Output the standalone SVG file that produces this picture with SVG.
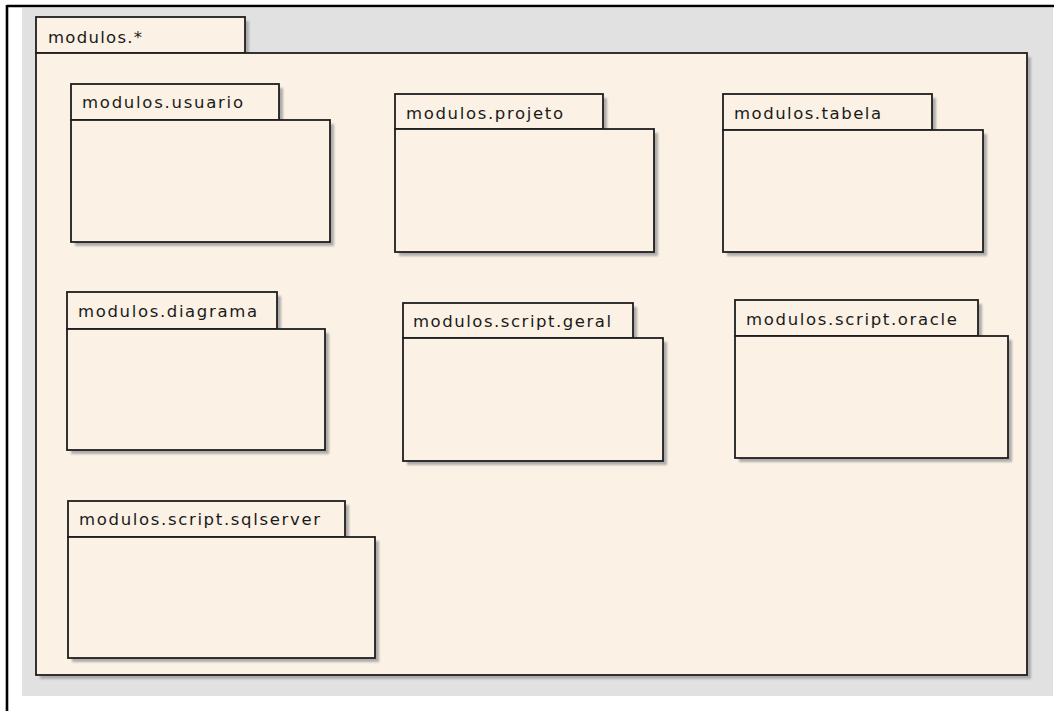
<svg xmlns="http://www.w3.org/2000/svg" width="1058" height="711" viewBox="0 0 1058 711">
  <style>
    .pkg { fill: #fbf1e4; stroke: #1e1e1e; stroke-width: 1.8; }
    .shadow { fill: #aeacaa; filter: url(#soft); }
    .label { font-family: "DejaVu Sans", "Liberation Sans", sans-serif; font-size: 16.5px; fill: #1a1a1a; }
  </style>
  <defs>
    <filter id="soft" x="-5%" y="-5%" width="110%" height="110%">
      <feGaussianBlur stdDeviation="1"/>
    </filter>
  </defs>

  <!-- page background and frame -->
  <rect x="0" y="0" width="1058" height="711" fill="#ffffff"/>
  <rect x="22" y="8" width="1031" height="688" fill="#e1e1e1"/>
  <line x1="7" y1="6" x2="1054" y2="6" stroke="#000" stroke-width="2.6"/>
  <line x1="7" y1="5" x2="7" y2="711" stroke="#000" stroke-width="2.6"/>

  <!-- outer package modulos.* -->
  <g id="pkg-modulos">
    <rect class="shadow" x="40" y="21" width="209" height="36"/>
    <rect class="shadow" x="40" y="57" width="991" height="622"/>
    <rect class="pkg" x="36" y="17" width="209" height="36"/>
    <rect class="pkg" x="36" y="53" width="991" height="622"/>
    <text class="label" x="48" y="43" textLength="94" lengthAdjust="spacing">modulos.*</text>
  </g>

  <g id="pkg-usuario">
    <rect class="shadow" x="75" y="88" width="208" height="36"/>
    <rect class="shadow" x="75" y="124" width="259" height="122"/>
    <rect class="pkg" x="71" y="84" width="208" height="36"/>
    <rect class="pkg" x="71" y="120" width="259" height="122"/>
    <text class="label" x="82" y="108" textLength="161" lengthAdjust="spacing">modulos.usuario</text>
  </g>

  <g id="pkg-projeto">
    <rect class="shadow" x="399" y="98" width="208" height="35"/>
    <rect class="shadow" x="399" y="133" width="259" height="123"/>
    <rect class="pkg" x="395" y="94" width="208" height="35"/>
    <rect class="pkg" x="395" y="129" width="259" height="123"/>
    <text class="label" x="406" y="119" textLength="157" lengthAdjust="spacing">modulos.projeto</text>
  </g>

  <g id="pkg-tabela">
    <rect class="shadow" x="727" y="98" width="209" height="36"/>
    <rect class="shadow" x="727" y="134" width="260" height="122"/>
    <rect class="pkg" x="723" y="94" width="209" height="36"/>
    <rect class="pkg" x="723" y="130" width="260" height="122"/>
    <text class="label" x="734" y="119" textLength="147" lengthAdjust="spacing">modulos.tabela</text>
  </g>

  <g id="pkg-diagrama">
    <rect class="shadow" x="71" y="296" width="210" height="37"/>
    <rect class="shadow" x="71" y="333" width="258" height="121"/>
    <rect class="pkg" x="67" y="292" width="210" height="37"/>
    <rect class="pkg" x="67" y="329" width="258" height="121"/>
    <text class="label" x="78" y="317" textLength="179" lengthAdjust="spacing">modulos.diagrama</text>
  </g>

  <g id="pkg-script-geral">
    <rect class="shadow" x="407" y="307" width="230" height="35"/>
    <rect class="shadow" x="407" y="342" width="260" height="123"/>
    <rect class="pkg" x="403" y="303" width="230" height="35"/>
    <rect class="pkg" x="403" y="338" width="260" height="123"/>
    <text class="label" x="413" y="327" textLength="198" lengthAdjust="spacing">modulos.script.geral</text>
  </g>

  <g id="pkg-script-oracle">
    <rect class="shadow" x="739" y="304" width="243" height="36"/>
    <rect class="shadow" x="739" y="340" width="273" height="122"/>
    <rect class="pkg" x="735" y="300" width="243" height="36"/>
    <rect class="pkg" x="735" y="336" width="273" height="122"/>
    <text class="label" x="746" y="325" textLength="211" lengthAdjust="spacing">modulos.script.oracle</text>
  </g>

  <g id="pkg-script-sqlserver">
    <rect class="shadow" x="72" y="505" width="277" height="36"/>
    <rect class="shadow" x="72" y="541" width="307" height="121"/>
    <rect class="pkg" x="68" y="501" width="277" height="36"/>
    <rect class="pkg" x="68" y="537" width="307" height="121"/>
    <text class="label" x="79" y="525" textLength="241" lengthAdjust="spacing">modulos.script.sqlserver</text>
  </g>

  <!-- no dependencies are drawn between the packages -->
  <g id="connectors"/>
</svg>
